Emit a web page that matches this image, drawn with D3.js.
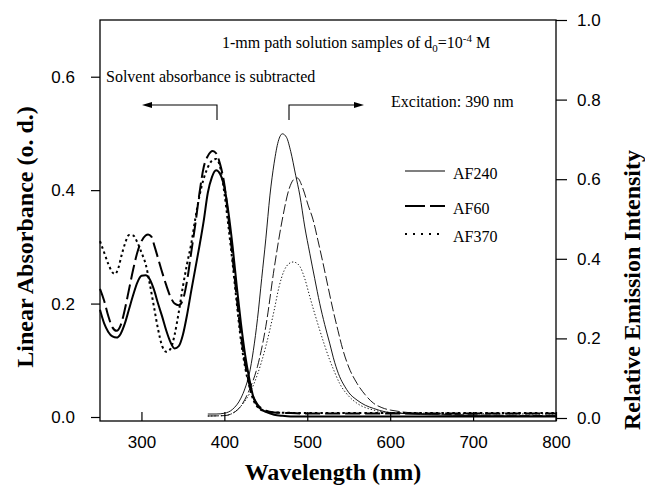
<!DOCTYPE html>
<meta charset="utf-8">
<html>
<head>
<script src="https://d3js.org/d3.v7.min.js"></script>
<style>
  body { margin: 0; background: #fff; }
  .tick text { font-family: "Liberation Sans", Arial, sans-serif; font-size: 17px; fill: #000; }
  .tick line { stroke: #000; stroke-width: 1.2; }
  .note { font-family: "Liberation Serif", "Times New Roman", serif; font-size: 16px; fill: #000; }
  .title { font-family: "Liberation Serif", "Times New Roman", serif; font-size: 24px; font-weight: bold; fill: #000; }
</style>
</head>
<body>
<div id="chart"></div>
<script>
// absorbance (left axis), wavelength in nm
const absWl240 = [250,255,260,265,270,275,280,285,290,295,300,305,310,315,320,325,330,335,340,345,350,355,360,365,370,375,380,385,390,395,400,405,410,415,420,425,430,435,440,445,450,460,470,480,500,600,700,800];
const absAF240 = [0.189,0.165,0.15,0.142,0.14,0.147,0.165,0.19,0.215,0.237,0.249,0.25,0.243,0.225,0.2,0.177,0.152,0.132,0.121,0.125,0.145,0.18,0.222,0.262,0.302,0.345,0.395,0.423,0.435,0.428,0.405,0.36,0.3,0.23,0.165,0.11,0.068,0.035,0.02,0.013,0.009,0.004,0.002,0.001,0.001,0.001,0.001,0.001];

const absWl60 = [250,255,260,265,270,275,280,285,290,295,300,305,308,312,316,320,325,330,335,340,345,350,355,360,365,370,375,380,386,390,395,400,405,410,415,420,425,430,435,440,445,450,460,480,500,600,700,800];
const absAF60 = [0.226,0.205,0.178,0.158,0.152,0.162,0.19,0.225,0.26,0.29,0.31,0.32,0.322,0.318,0.3,0.28,0.255,0.232,0.212,0.2,0.197,0.207,0.24,0.29,0.34,0.395,0.44,0.46,0.469,0.465,0.445,0.41,0.35,0.28,0.21,0.145,0.095,0.058,0.035,0.022,0.015,0.011,0.008,0.007,0.006,0.006,0.006,0.006];

const absWl370 = [250,255,260,265,268,272,276,280,285,290,295,300,305,310,315,320,325,330,335,340,345,350,355,360,365,370,375,380,385,390,395,400,405,410,415,420,425,430,435,440,445,450,460,500,600,700,800];
const absAF370 = [0.31,0.29,0.27,0.255,0.252,0.262,0.285,0.305,0.321,0.32,0.308,0.29,0.27,0.235,0.195,0.155,0.125,0.115,0.12,0.145,0.185,0.23,0.27,0.305,0.35,0.39,0.42,0.44,0.452,0.455,0.44,0.395,0.335,0.27,0.2,0.135,0.088,0.055,0.03,0.018,0.012,0.01,0.008,0.007,0.007,0.007,0.007];

// relative emission intensity (right axis)
const emWl240 = [380,390,400,410,420,425,430,435,440,445,450,455,460,465,470,475,480,486,491,497,503,509,515,521,527,533,539,545,550,560,570,580,595,610,650,700,800];
const emAF240 = [0.01,0.01,0.012,0.022,0.05,0.075,0.11,0.17,0.25,0.35,0.45,0.56,0.64,0.695,0.714,0.705,0.67,0.61,0.56,0.48,0.414,0.35,0.288,0.235,0.188,0.14,0.104,0.08,0.064,0.045,0.032,0.024,0.015,0.012,0.008,0.006,0.005];

const emWl60 = [380,400,410,420,430,440,450,460,470,478,484,488,495,501,507,513,519,525,531,537,543,550,560,570,580,590,600,650,700,800];
const emAF60 = [0.005,0.006,0.012,0.03,0.07,0.13,0.23,0.375,0.5,0.575,0.6,0.603,0.575,0.535,0.498,0.445,0.389,0.33,0.272,0.22,0.171,0.128,0.087,0.058,0.037,0.026,0.02,0.01,0.008,0.006];

const emWl370 = [380,400,410,420,430,440,450,460,466,472,478,483,488,491,497,503,509,515,521,527,533,539,550,560,580,600,650,700,800];
const emAF370 = [0.005,0.006,0.012,0.03,0.06,0.11,0.18,0.27,0.33,0.37,0.388,0.392,0.388,0.381,0.35,0.305,0.262,0.221,0.182,0.146,0.115,0.087,0.055,0.037,0.02,0.014,0.012,0.011,0.01];

const seriesNames = ["AF240", "AF60", "AF370"];
const xTicks = [300,400,500,600,700,800];
const leftTicks = [0,0.2,0.4,0.6];
const rightTicks = [0,0.2,0.4,0.6,0.8,1.0];

const margin = {top: 20, left: 100},
      width = 456,
      height = 401;

const svg = d3.select("#chart").append("svg")
    .attr("width", 645).attr("height", 487);
const g = svg.append("g").attr("transform", `translate(${margin.left},${margin.top})`);

const x = d3.scaleLinear().domain([250, 800]).range([0, width]);
const yL = d3.scaleLinear().domain([0, 0.7]).range([397, 0]);
const yR = d3.scaleLinear().domain([0, 1]).range([398, 0]);

// axes
g.append("g").attr("transform", `translate(0,${height})`)
  .call(d3.axisBottom(x).tickValues(xTicks).tickSizeInner(-9).tickSizeOuter(0).tickPadding(15))
  .call(a => a.select(".domain").remove());
g.append("g")
  .call(d3.axisLeft(yL).tickValues(leftTicks).tickFormat(d3.format(".1f")).tickSize(9).tickPadding(16))
  .call(a => a.select(".domain").remove());
g.append("g").attr("transform", `translate(${width},0)`)
  .call(d3.axisRight(yR).tickValues(rightTicks).tickFormat(d3.format(".1f")).tickSize(11).tickPadding(10))
  .call(a => a.select(".domain").remove());

g.append("rect").attr("width", width).attr("height", height)
  .attr("fill", "none").attr("stroke", "#000").attr("stroke-width", 1.3);

// curves
const absLine = d3.line().x(d => x(d[0])).y(d => yL(d[1])).curve(d3.curveMonotoneX);
const emLine = d3.line().x(d => x(d[0])).y(d => yR(d[1])).curve(d3.curveMonotoneX);

const absSets = [[absWl240, absAF240, null], [absWl60, absAF60, "15,5"], [absWl370, absAF370, "2.5,3"]];
const emSets = [[emWl240, emAF240, null], [emWl60, emAF60, "10,3"], [emWl370, emAF370, "1.3,2"]];

absSets.forEach(s => {
  g.append("path").datum(d3.zip(s[0], s[1]))
    .attr("fill", "none").attr("stroke", "#000").attr("stroke-width", 2)
    .attr("stroke-dasharray", s[2]).attr("d", absLine);
});
emSets.forEach(s => {
  g.append("path").datum(d3.zip(s[0], s[1]))
    .attr("fill", "none").attr("stroke", "#000").attr("stroke-width", 0.9)
    .attr("stroke-dasharray", s[2]).attr("d", emLine);
});

// legend
const legDash = [null, "20,5", "2,6"];
seriesNames.forEach((n, i) => {
  const ly = [171, 206, 234][i];
  svg.append("line").attr("x1", 405).attr("x2", 445).attr("y1", ly).attr("y2", ly)
    .attr("stroke", "#000").attr("stroke-width", i == 0 ? 1.2 : 2).attr("stroke-dasharray", legDash[i]);
  svg.append("text").attr("class", "note").attr("x", 453).attr("y", ly + 8).text(n);
});

// annotations
const t1 = svg.append("text").attr("class", "note").attr("x", 222).attr("y", 48);
t1.append("tspan").text("1-mm path solution samples of d");
t1.append("tspan").attr("font-size", 11).attr("dy", 4).text("0");
t1.append("tspan").attr("dy", -4).text("=10");
t1.append("tspan").attr("font-size", 11).attr("dy", -6).text("-4");
t1.append("tspan").attr("dy", 6).text(" M");

svg.append("text").attr("class", "note").attr("x", 106).attr("y", 82).text("Solvent absorbance is subtracted");
svg.append("text").attr("class", "note").attr("x", 391).attr("y", 107).text("Excitation: 390 nm");

// bracket arrows
svg.append("path").attr("d", "M217,120 V105 H150").attr("fill", "none").attr("stroke", "#000").attr("stroke-width", 1.1);
svg.append("path").attr("d", "M142,105 L152,102 L152,108 Z").attr("fill", "#000");
svg.append("path").attr("d", "M289,120 V105 H356").attr("fill", "none").attr("stroke", "#000").attr("stroke-width", 1.1);
svg.append("path").attr("d", "M364,105 L354,102 L354,108 Z").attr("fill", "#000");

// titles
svg.append("text").attr("class", "title").attr("text-anchor", "middle")
  .attr("transform", "translate(33,237) rotate(-90)").text("Linear Absorbance (o. d.)");
svg.append("text").attr("class", "title").attr("text-anchor", "middle")
  .attr("transform", "translate(640,290) rotate(-90)").text("Relative Emission Intensity");
svg.append("text").attr("class", "title").attr("text-anchor", "middle")
  .attr("x", 333).attr("y", 480).text("Wavelength (nm)");
</script>
</body>
</html>
